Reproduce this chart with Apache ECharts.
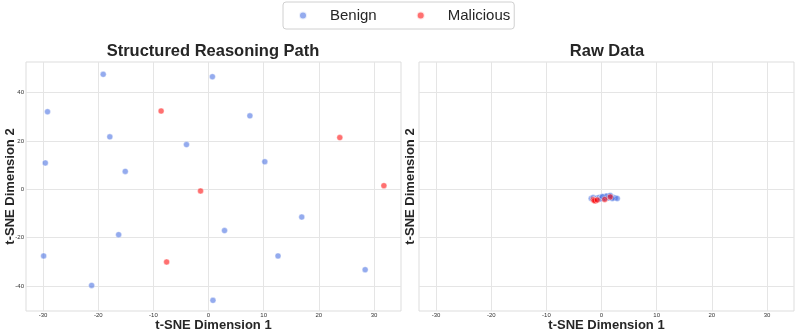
<!DOCTYPE html>
<html>
<head>
<meta charset="utf-8">
<script src="https://cdn.jsdelivr.net/npm/echarts@6/dist/echarts.min.js"></script>
<style>
  html, body { margin: 0; padding: 0; background: #fff; }
  #chart { width: 797px; height: 334px; }
</style>
</head>
<body>
<div id="chart"></div>
<script>
// t-SNE points, structured reasoning path
var reasonBenign = [
  [-19.1, 47.6], [0.7, 46.6], [-29.2, 32.1], [7.5, 30.4], [-17.9, 21.7],
  [-4.0, 18.5], [-29.6, 10.9], [10.2, 11.4], [-15.1, 7.4], [16.9, -11.5],
  [2.9, -17.1], [-16.3, -18.8], [-29.9, -27.6], [12.6, -27.6], [28.4, -33.3],
  [-21.2, -39.8], [0.8, -46.0]
];
var reasonMalicious = [
  [-8.6, 32.4], [23.8, 21.4], [31.8, 1.5], [-1.45, -0.7], [-7.6, -30.1]
];
// t-SNE points, raw data
var rawBenign = [
  [-1.87, -3.81], [-1.51, -3.40], [-1.14, -4.02], [-0.78, -3.60], [-0.42, -3.40],
  [-0.05, -3.60], [0.31, -3.19], [0.67, -3.40], [1.04, -2.98], [1.40, -2.77],
  [1.76, -3.19], [2.13, -3.40], [2.49, -3.60], [2.85, -3.81], [-0.96, -4.43],
  [-0.24, -4.02], [0.49, -3.81], [1.22, -3.60], [1.94, -3.81], [0.85, -2.77],
  [0.13, -2.98], [1.58, -2.57]
];
var rawMalicious = [
  [-1.51, -4.22], [-1.14, -4.84], [-1.33, -4.64], [-0.78, -4.43], [0.58, -4.22], [1.58, -3.19]
];
var xTicks = [-30, -20, -10, 0, 10, 20, 30];
var yTicks = [-40, -20, 0, 20, 40];

var font = 'Liberation Sans, Arial, sans-serif';
var blue = 'rgba(65,105,225,0.7)';
var red = 'rgba(255,0,0,0.7)';

function xAxis(idx) {
  return {
    type: 'value', gridIndex: idx, min: -33.1, max: 34.9,
    name: 't-SNE Dimension 1', nameLocation: 'middle', nameGap: 8, nameMoveOverlap: false,
    nameTextStyle: { fontFamily: font, fontSize: 13, fontWeight: 'bold', color: '#262626' },
    axisLine: { show: false },
    axisTick: { show: false, customValues: xTicks },
    axisLabel: { customValues: xTicks, fontSize: 6, color: '#333', margin: 1, fontFamily: font },
    splitLine: { show: true, lineStyle: { color: '#e5e5e5', width: 1 } }
  };
}
function yAxis(idx, labels, gap) {
  return {
    type: 'value', gridIndex: idx, min: -50.4, max: 52.7,
    name: 't-SNE Dimension 2', nameLocation: 'middle', nameGap: gap, nameMoveOverlap: false,
    nameTextStyle: { fontFamily: font, fontSize: 13, fontWeight: 'bold', color: '#262626' },
    axisLine: { show: false },
    axisTick: { show: false, customValues: yTicks },
    axisLabel: { show: labels, customValues: yTicks, fontSize: 6, color: '#333', margin: 2, fontFamily: font },
    splitLine: { show: true, lineStyle: { color: '#e5e5e5', width: 1 } }
  };
}
function pts(name, data, color, xi) {
  return {
    name: name, type: 'scatter', xAxisIndex: xi, yAxisIndex: xi,
    data: data, symbolSize: 6,
    itemStyle: { color: color, borderColor: '#fff', borderWidth: 0.5 },
    emphasis: { disabled: true }
  };
}

var chart = echarts.init(document.getElementById('chart'), null, { renderer: 'canvas' });
chart.setOption({
  animation: false,
  backgroundColor: '#fff',
  title: [
    { text: 'Structured Reasoning Path', left: 208, top: 38, textAlign: 'center',
      textStyle: { fontFamily: font, fontSize: 16.5, fontWeight: 'bold', color: '#262626' } },
    { text: 'Raw Data', left: 602, top: 38, textAlign: 'center',
      textStyle: { fontFamily: font, fontSize: 16.5, fontWeight: 'bold', color: '#262626' } }
  ],
  legend: {
    data: [
      { name: 'Benign', itemStyle: { color: blue } },
      { name: 'Malicious', itemStyle: { color: red } }
    ],
    top: 2, left: 283, icon: 'circle', itemWidth: 8, itemHeight: 8,
    itemGap: 39, padding: [6, 4, 6, 15],
    borderColor: '#d0d0d0', borderWidth: 1, borderRadius: 3, backgroundColor: '#fff',
    textStyle: { fontFamily: font, fontSize: 15, color: '#262626', padding: [0, 0, 0, 18] }
  },
  grid: [
    { left: 26, right: 396, top: 62, bottom: 23, show: true, borderColor: '#dddddd', borderWidth: 1,
      outerBoundsMode: 'none', containLabel: false },
    { left: 419, right: 3, top: 62, bottom: 23, show: true, borderColor: '#dddddd', borderWidth: 1,
      outerBoundsMode: 'none', containLabel: false }
  ],
  xAxis: [xAxis(0), xAxis(1)],
  yAxis: [yAxis(0, true, 9.5), yAxis(1, false, 2.5)],
  series: [
    pts('Benign', reasonBenign, blue, 0),
    pts('Malicious', reasonMalicious, red, 0),
    pts('Benign', rawBenign, blue, 1),
    pts('Malicious', rawMalicious, red, 1)
  ]
});
</script>
</body>
</html>
